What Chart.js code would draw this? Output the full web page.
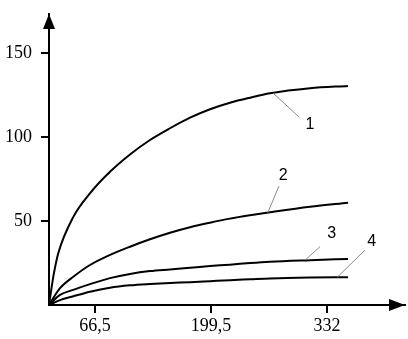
<!DOCTYPE html>
<html>
<head>
<meta charset="utf-8">
<script src="https://cdn.jsdelivr.net/npm/chart.js@4.4.1/dist/chart.umd.min.js"></script>
<style>
html,body{margin:0;padding:0;background:#fff;}
canvas{display:block;}
</style>
</head>
<body>
<canvas id="c" width="408" height="339"></canvas>
<script>
// ---- data ----
const curve1X = [14, 17.1, 19.5, 24.6, 42, 60.9, 83.8, 106.7, 129.6, 152.5, 175.4, 198.3, 221.1, 244, 266.9, 312.7, 356.2];
const curve1Y = [0, 10.9, 18.5, 30.8, 52.6, 66.5, 79.3, 89.6, 98.2, 105.2, 111.5, 116.5, 120.4, 123.4, 126.0, 129.0, 130.4];
const curve2X = [14, 26.6, 41.8, 60.9, 83.8, 106.7, 129.6, 152.5, 175.4, 198.3, 221.1, 244, 266.9, 312.7, 356.2];
const curve2Y = [0, 10.0, 16.8, 23.8, 29.8, 34.7, 39.1, 43.0, 46.3, 49.0, 51.4, 53.4, 55.2, 58.5, 60.9];
const curve3X = [14, 26.6, 41.8, 60.9, 83.8, 106.7, 129.6, 152.5, 175.4, 198.3, 221.1, 244, 266.9, 312.7, 356.2];
const curve3Y = [0, 6.0, 9.0, 12.4, 16.0, 18.5, 20.2, 21.2, 22.2, 23.2, 24.0, 25.0, 25.8, 26.7, 27.4];
const curve4X = [14, 26.6, 41.8, 60.9, 83.8, 106.7, 129.6, 152.5, 175.4, 198.3, 221.1, 244, 266.9, 312.7, 356.2];
const curve4Y = [0, 2.9, 5.2, 7.9, 10.3, 11.7, 12.5, 13.1, 13.6, 14.2, 14.8, 15.3, 15.8, 16.3, 16.5];
const xTickValues = [66.5, 199.5, 332];
const xTickLabels = ['66,5', '199,5', '332'];
const yTickValues = [50, 100, 150];
const yTickLabels = ['50', '100', '150'];
const curveLabels = ['1', '2', '3', '4'];
// label anchor (text) and leader line ends, in data units
const labelText = [[312.7, 107.1], [282.1, 76.8], [337.5, 42.3], [383.3, 37.7]];
const leaderFrom = [[270.7, 126.0], [264.3, 54.9], [308.1, 27.2], [343.9, 16.5]];
const leaderTo = [[300.5, 111.7], [277.2, 70.8], [324.1, 34.7], [375.6, 32.7]];

function pts(xs, ys) { return xs.map((x, i) => ({x: x, y: ys[i]})); }
const series = [[curve1X, curve1Y], [curve2X, curve2Y], [curve3X, curve3Y], [curve4X, curve4Y]];

// layout target for plot area
const target = { left: 49, top: 14, right: 405, bottom: 305 };
const lay = { padTop: 14, padRight: 3, xH: 34, yW: 49 };

const annot = {
  id: 'annot',
  afterDraw(chart) {
    const ctx = chart.ctx, xs = chart.scales.x, ys = chart.scales.y, a = chart.chartArea;
    ctx.save();
    ctx.fillStyle = '#000';
    ctx.beginPath();
    ctx.moveTo(a.left, a.top);
    ctx.lineTo(a.left - 6, a.top + 15);
    ctx.lineTo(a.left + 6, a.top + 15);
    ctx.closePath();
    ctx.fill();
    ctx.beginPath();
    ctx.moveTo(a.right, a.bottom);
    ctx.lineTo(a.right - 16, a.bottom - 6);
    ctx.lineTo(a.right - 16, a.bottom + 6);
    ctx.closePath();
    ctx.fill();
    ctx.strokeStyle = '#8a8a8a';
    ctx.lineWidth = 1;
    for (let i = 0; i < curveLabels.length; i++) {
      ctx.beginPath();
      ctx.moveTo(xs.getPixelForValue(leaderFrom[i][0]), ys.getPixelForValue(leaderFrom[i][1]));
      ctx.lineTo(xs.getPixelForValue(leaderTo[i][0]), ys.getPixelForValue(leaderTo[i][1]));
      ctx.stroke();
    }
    ctx.fillStyle = '#000';
    ctx.font = '16px "Liberation Sans", Arial, sans-serif';
    ctx.textAlign = 'center';
    ctx.textBaseline = 'middle';
    for (let i = 0; i < curveLabels.length; i++) {
      ctx.fillText(curveLabels[i], xs.getPixelForValue(labelText[i][0]), ys.getPixelForValue(labelText[i][1]));
    }
    ctx.restore();
  }
};

const serifFont = { family: '"Liberation Serif", "Times New Roman", serif', size: 18 };
function zeroPad(s) { s.paddingLeft = 0; s.paddingRight = 0; s.paddingTop = 0; s.paddingBottom = 0; }

const chart = new Chart(document.getElementById('c'), {
  type: 'line',
  data: {
    datasets: series.map((s, i) => ({
      label: curveLabels[i],
      data: pts(s[0], s[1]),
      borderColor: '#000',
      borderWidth: 2,
      pointRadius: 0,
      fill: false,
      cubicInterpolationMode: 'monotone',
      clip: false
    }))
  },
  options: {
    responsive: false,
    animation: false,
    devicePixelRatio: 1,
    layout: { padding: { top: lay.padTop, right: lay.padRight, left: 0, bottom: 0 } },
    plugins: { legend: { display: false }, tooltip: { enabled: false } },
    scales: {
      x: {
        type: 'linear',
        min: 14,
        max: 421.4,
        afterFit(scale) { scale.height = lay.xH; zeroPad(scale); },
        afterBuildTicks(scale) { scale.ticks = xTickValues.map(v => ({value: v})); },
        ticks: {
          autoSkip: false,
          maxRotation: 0,
          padding: 2,
          color: '#000',
          font: serifFont,
          callback: (v) => { const i = xTickValues.indexOf(v); return i >= 0 ? xTickLabels[i] : ''; }
        },
        grid: { drawOnChartArea: false, drawTicks: true, tickLength: 8, color: '#000', lineWidth: 2 },
        border: { display: true, color: '#000', width: 2 }
      },
      y: {
        type: 'linear',
        min: 0,
        max: 173.2,
        afterFit(scale) { scale.width = lay.yW; zeroPad(scale); },
        afterBuildTicks(scale) { scale.ticks = yTickValues.map(v => ({value: v})); },
        ticks: {
          autoSkip: false,
          padding: 9,
          color: '#000',
          font: serifFont,
          callback: (v) => { const i = yTickValues.indexOf(v); return i >= 0 ? yTickLabels[i] : ''; }
        },
        grid: { drawOnChartArea: false, drawTicks: true, tickLength: 8, color: '#000', lineWidth: 2 },
        border: { display: true, color: '#000', width: 2 }
      }
    }
  },
  plugins: [annot]
});

// nudge layout so the plot area lands where the reference has it
for (let k = 0; k < 2; k++) {
  const ca = chart.chartArea;
  lay.padTop += target.top - ca.top;
  lay.padRight += ca.right - target.right;
  lay.xH += ca.bottom - target.bottom;
  lay.yW += target.left - ca.left;
  chart.options.layout.padding.top = lay.padTop;
  chart.options.layout.padding.right = lay.padRight;
  chart.update();
}
</script>
</body>
</html>
